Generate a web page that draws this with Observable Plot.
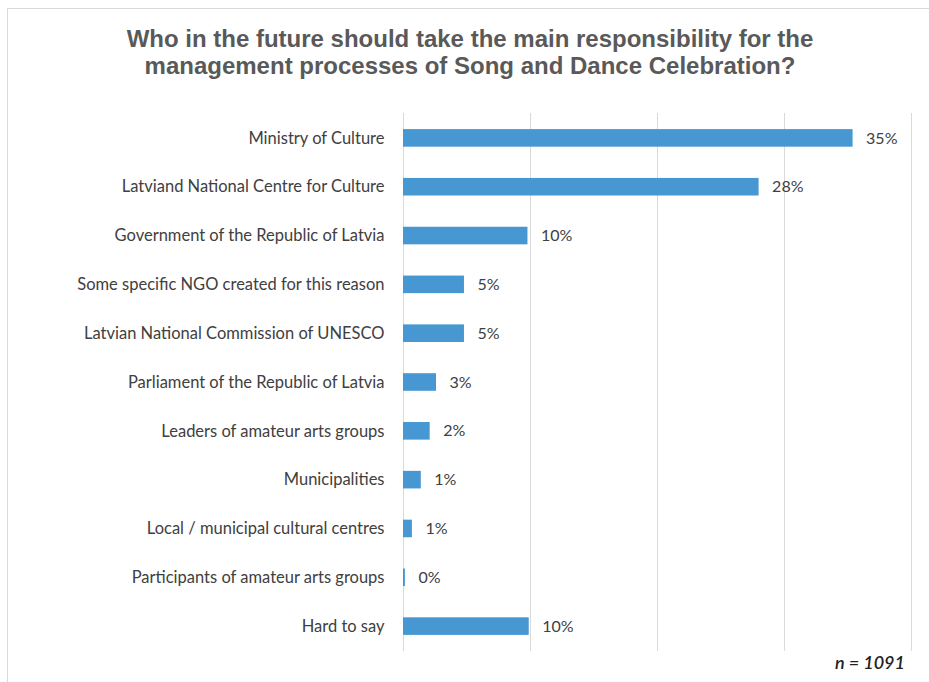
<!DOCTYPE html>
<html>
<head>
<meta charset="utf-8">
<script src="https://cdn.jsdelivr.net/npm/d3@7"></script>
<script src="https://cdn.jsdelivr.net/npm/@observablehq/plot@0.6"></script>
<style>
  html, body { margin: 0; padding: 0; background: #fff; }
  #wrap { position: relative; width: 929px; height: 682px; overflow: hidden; }
  #frame { position: absolute; left: 7px; top: 8px; width: 940px; height: 700px; border: 1px solid #d9d9d9; box-sizing: border-box; }
  #title { position: absolute; left: 0; top: 25px; width: 940px; text-align: center;
    font-family: "Liberation Sans Narrow", "Arial Narrow", "Liberation Sans", sans-serif; font-weight: bold;
    font-size: 24px; line-height: 27px; color: #595959; }
  #note { position: absolute; right: 24px; top: 651px; font-family: Lato, sans-serif; font-style: italic;
    font-weight: 600; font-size: 18px; color: #222; }
  #chart { position: absolute; left: 0; top: 0; }
</style>
</head>
<body>
<div id="wrap">
  <div id="frame"></div>
  <div id="chart"></div>
  <div id="title">Who in the future should take the main responsibility for the<br>management processes of Song and Dance Celebration?</div>
  <div id="note">n = 1091</div>
</div>
<script>
const categories = [
  "Ministry of Culture",
  "Latviand National Centre for Culture",
  "Government of the Republic of Latvia",
  "Some specific NGO created for this reason",
  "Latvian National Commission of UNESCO",
  "Parliament of the Republic of Latvia",
  "Leaders of amateur arts groups",
  "Municipalities",
  "Local / municipal cultural centres",
  "Participants of amateur arts groups",
  "Hard to say"
];
const values = [35.4, 28.0, 9.8, 4.8, 4.8, 2.6, 2.1, 1.4, 0.7, 0.15, 9.9];
const valueLabels = ["35%", "28%", "10%", "5%", "5%", "3%", "2%", "1%", "1%", "0%", "10%"];
const xTicks = [0, 10, 20, 30, 40];

const data = categories.map((c, i) => ({category: c, value: values[i], label: valueLabels[i]}));

const chart = Plot.plot({
  width: 929,
  height: 682,
  marginLeft: 403,
  marginRight: 18,
  marginTop: 113,
  marginBottom: 31,
  style: {fontFamily: "Lato, sans-serif", fontSize: "16.5px", color: "#404040", background: "transparent"},
  x: {domain: [0, 40], axis: null},
  y: {domain: categories, paddingInner: 0.64, paddingOuter: 0.33, round: false, label: null, tickSize: 0, tickPadding: 19},
  marks: [
    Plot.gridX(xTicks, {stroke: "#d9d9d9", strokeOpacity: 1, strokeWidth: 1}),
    Plot.barX(data, {x: "value", y: "category", fill: "#4697d2"}),
    Plot.text(data, {x: "value", y: "category", text: "label", textAnchor: "start", dx: 13, fill: "#404040", fontSize: 16})
  ]
});
document.getElementById("chart").appendChild(chart);
</script>
</body>
</html>
